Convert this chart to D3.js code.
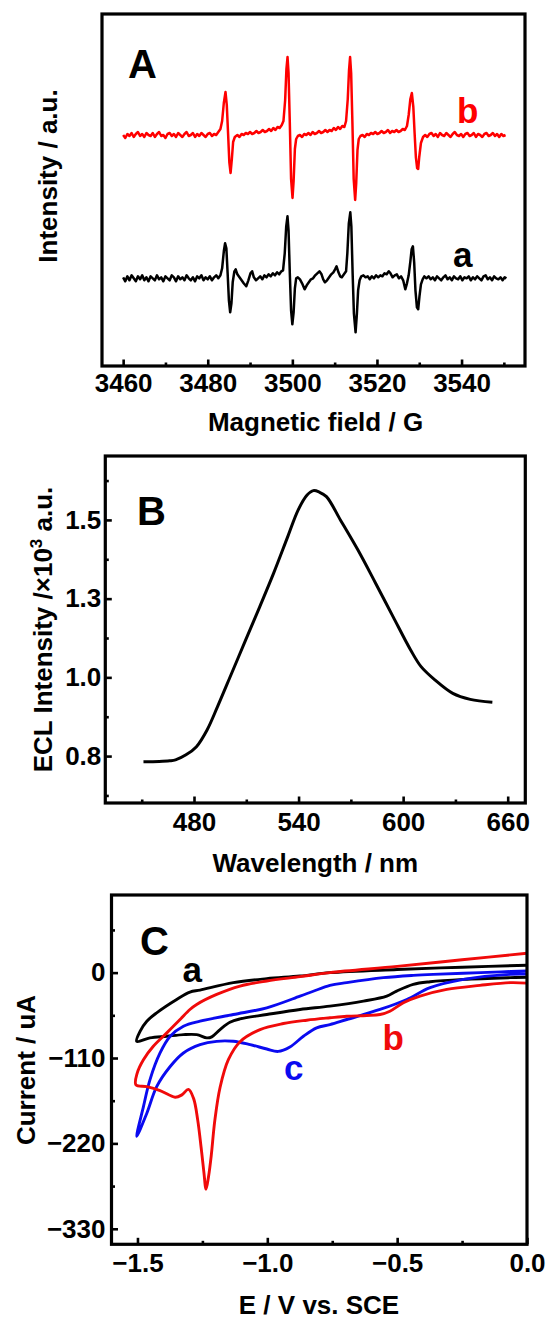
<!DOCTYPE html>
<html><head><meta charset="utf-8">
<script src="https://cdn.jsdelivr.net/npm/d3@7"></script>
<style>
body{margin:0;background:#fff}
svg{display:block}
text{font-family:"Liberation Sans",Arial,sans-serif;font-weight:bold}
</style>
</head><body>
<svg id="fig" width="547" height="1320"></svg>
<script>
// ---------- Panel A : EPR spectra ----------
const eprTicks = [3460, 3480, 3500, 3520, 3540];
const eprMinor = [3470, 3490, 3510, 3530, 3550];
const eprOffsetA = 0;      // curve a baseline
const eprOffsetB = 1.433;  // curve b baseline (stacked)
const eprB = [[3460,0.00],[3460.5,-0.03],[3461,0.01],[3461.5,-0.01],[3462,0.02],[3462.5,-0.02],[3463,0.01],[3463.5,0.03],[3464,-0.01],[3464.5,0.01],[3465,-0.02],[3465.5,0.02],[3466,0.00],[3466.5,-0.01],[3467,0.02],[3467.5,-0.02],[3468,0.01],[3468.5,0.03],[3469,-0.01],[3469.5,0.00],[3470,-0.03],[3470.5,0.01],[3471,0.02],[3471.5,-0.01],[3472,0.01],[3472.5,-0.02],[3473,0.02],[3473.5,0.00],[3474,-0.02],[3474.5,0.01],[3475,0.03],[3475.5,-0.01],[3476,0.00],[3476.5,0.02],[3477,-0.02],[3477.5,0.01],[3478,-0.01],[3478.5,0.02],[3479,0.00],[3479.5,-0.02],[3480,0.01],[3480.5,0.02],[3481,-0.01],[3481.5,0.01],[3482,0.00],[3482.5,0.03],
[3483,0.06],[3483.4,0.14],[3483.8,0.32],[3484.2,0.43],[3484.5,0.30],[3484.8,0.02],[3485.1,-0.27],[3485.4,-0.38],[3485.7,-0.24],[3486,-0.07],[3486.4,-0.02],
[3487,0.00],[3487.5,-0.02],[3488,0.01],[3488.5,0.00],[3489,0.02],[3489.5,0.01],[3490,0.03],[3490.5,0.01],[3491,0.02],[3491.5,0.04],[3492,0.02],[3492.5,0.03],[3493,0.05],[3493.5,0.03],[3494,0.04],[3494.5,0.06],[3495,0.04],[3495.5,0.07],[3496,0.05],[3496.5,0.08],[3497,0.07],[3497.5,0.10],
[3497.9,0.14],[3498.3,0.35],[3498.6,0.66],[3498.86,0.78],[3499.1,0.62],[3499.4,0.12],[3499.7,-0.44],[3500.04,-0.63],[3500.3,-0.46],[3500.6,-0.14],[3500.9,-0.04],[3501.3,-0.01],
[3501.8,0.00],[3502.3,-0.02],[3502.8,0.01],[3503.3,0.00],[3503.8,0.02],[3504.3,0.00],[3504.8,0.03],[3505.3,0.01],[3505.8,0.02],[3506.3,0.04],[3506.8,0.02],[3507.3,0.03],[3507.8,0.05],[3508.3,0.03],[3508.8,0.05],[3509.3,0.04],[3509.8,0.07],[3510.3,0.05],[3510.8,0.08],[3511.3,0.06],[3511.8,0.09],[3512.3,0.08],
[3512.7,0.14],[3513.1,0.36],[3513.4,0.65],[3513.65,0.78],[3513.9,0.62],[3514.2,0.12],[3514.5,-0.44],[3514.85,-0.65],[3515.1,-0.48],[3515.4,-0.15],[3515.7,-0.04],[3516.1,-0.01],
[3516.6,0.00],[3517.1,-0.02],[3517.6,0.01],[3518.1,0.00],[3518.6,0.02],[3519.1,0.01],[3519.6,0.03],[3520.1,0.01],[3520.6,0.02],[3521.1,0.04],[3521.6,0.02],[3522.1,0.03],[3522.6,0.05],[3523.1,0.02],[3523.6,0.04],[3524.1,0.03],[3524.6,0.05],[3525.1,0.03],[3525.6,0.04],[3526.1,0.06],[3526.6,0.05],
[3527.1,0.09],[3527.5,0.20],[3527.9,0.36],[3528.25,0.42],[3528.6,0.28],[3528.9,0.02],[3529.2,-0.22],[3529.5,-0.33],[3529.75,-0.34],[3530.0,-0.22],[3530.4,-0.08],[3530.9,-0.02],
[3531.4,0.00],[3531.9,-0.02],[3532.4,0.01],[3532.9,0.02],[3533.4,-0.01],[3533.9,0.01],[3534.4,-0.02],[3534.9,0.02],[3535.4,0.00],[3535.9,-0.01],[3536.4,0.02],[3536.9,0.00],[3537.4,-0.02],[3537.9,0.01],[3538.4,0.03],[3538.9,0.00],[3539.4,-0.01],[3539.9,0.01],[3540.4,-0.02],[3540.9,0.01],[3541.4,0.02],[3541.9,-0.01],[3542.4,0.00],[3542.9,0.02],[3543.4,-0.02],[3543.9,0.01],[3544.4,0.00],[3544.9,-0.02],[3545.4,0.01],[3545.9,0.02],[3546.4,-0.01],[3546.9,0.00],[3547.4,0.02],[3547.9,-0.01],[3548.4,0.01],[3548.9,-0.02],[3549.4,0.01],[3549.9,-0.01],[3550.4,0.00]];
const eprA = [[3460,0.01],[3460.5,-0.03],[3461,0.02],[3461.5,-0.02],[3462,0.03],[3462.5,0.00],[3463,-0.03],[3463.5,0.02],[3464,-0.01],[3464.5,0.03],[3465,-0.02],[3465.5,0.01],[3466,-0.03],[3466.5,0.02],[3467,0.00],[3467.5,-0.02],[3468,0.03],[3468.5,-0.01],[3469,0.01],[3469.5,-0.03],[3470,0.02],[3470.5,0.00],[3471,-0.02],[3471.5,0.03],[3472,0.01],[3472.5,-0.03],[3473,0.02],[3473.5,-0.01],[3474,0.01],[3474.5,-0.02],[3475,0.03],[3475.5,0.00],[3476,-0.02],[3476.5,0.01],[3477,-0.03],[3477.5,0.02],[3478,0.00],[3478.5,0.03],[3479,-0.02],[3479.5,0.01],[3480,-0.01],[3480.5,0.02],[3481,-0.02],[3481.5,0.01],[3482,0.03],[3482.5,0.00],
[3483,0.03],[3483.4,0.10],[3483.8,0.27],[3484.1,0.35],[3484.4,0.30],[3484.7,0.05],[3485.0,-0.22],[3485.3,-0.34],[3485.6,-0.25],[3485.9,-0.04],[3486.3,0.07],[3486.6,0.09],
[3487,0.04],[3487.5,0.01],[3488,-0.02],[3488.5,-0.05],[3489.1,-0.08],[3489.6,-0.02],[3490.1,0.05],[3490.5,0.07],[3490.9,0.01],[3491.4,-0.02],[3491.9,0.00],[3492.4,0.02],[3492.9,-0.01],[3493.4,0.03],[3493.9,0.01],[3494.4,0.04],[3494.9,0.02],[3495.4,0.05],[3495.9,0.03],[3496.4,0.06],[3496.9,0.04],[3497.4,0.07],[3497.8,0.08],
[3498.2,0.25],[3498.55,0.52],[3498.85,0.62],[3499.1,0.48],[3499.4,0.05],[3499.7,-0.32],[3500.0,-0.46],[3500.3,-0.34],[3500.6,-0.10],[3500.9,0.00],[3501.3,0.01],[3501.8,-0.01],[3502.3,-0.05],[3502.9,-0.11],[3503.4,-0.07],[3503.9,-0.04],[3504.4,-0.01],[3504.9,0.00],[3505.4,0.03],[3505.9,0.05],[3506.4,0.07],[3506.9,0.04],[3507.3,-0.01],[3507.7,-0.04],[3508.2,-0.02],[3508.7,0.01],[3509.2,0.04],[3509.7,0.06],[3510.1,0.09],[3510.45,0.12],[3510.9,0.06],[3511.3,0.02],[3511.7,0.01],[3512.2,0.04],[3512.7,0.07],
[3513.0,0.25],[3513.35,0.55],[3513.7,0.66],[3513.95,0.52],[3514.25,0.05],[3514.55,-0.35],[3514.95,-0.54],[3515.25,-0.36],[3515.55,-0.12],[3515.9,-0.02],[3516.3,0.02],
[3516.8,0.03],[3517.3,0.01],[3517.8,0.02],[3518.3,-0.01],[3518.8,0.02],[3519.3,0.00],[3519.8,0.03],[3520.3,0.01],[3520.8,0.03],[3521.3,0.02],[3521.8,0.05],[3522.3,0.04],[3522.8,0.07],[3523.2,0.05],[3523.7,0.01],[3524.2,0.03],[3524.7,0.04],[3525.2,0.00],[3525.7,0.02],[3526.2,-0.02],[3526.7,-0.11],[3527.1,-0.05],[3527.5,0.03],
[3527.9,0.17],[3528.2,0.29],[3528.5,0.32],[3528.8,0.16],[3529.1,-0.12],[3529.45,-0.29],[3529.75,-0.31],[3530.05,-0.18],[3530.4,-0.06],[3530.8,-0.01],[3531.2,0.02],
[3531.7,0.00],[3532.2,0.02],[3532.7,-0.01],[3533.2,0.01],[3533.7,-0.02],[3534.2,0.02],[3534.7,0.00],[3535.2,-0.02],[3535.7,0.01],[3536.2,0.03],[3536.7,-0.01],[3537.2,0.01],[3537.7,-0.02],[3538.2,0.02],[3538.7,0.00],[3539.2,-0.01],[3539.7,0.02],[3540.2,-0.02],[3540.7,0.01],[3541.2,0.00],[3541.7,0.02],[3542.2,-0.02],[3542.7,0.01],[3543.2,-0.01],[3543.7,0.02],[3544.2,0.00],[3544.7,-0.02],[3545.2,0.02],[3545.7,0.03],[3546.2,-0.01],[3546.7,0.01],[3547.2,-0.02],[3547.7,0.02],[3548.2,0.00],[3548.7,-0.01],[3549.2,0.01],[3549.7,-0.02],[3550.2,0.01],[3550.6,0.00]];

// ---------- Panel B : ECL spectrum ----------
const wlTicks = [480, 540, 600, 660];
const wlMinor = [450, 510, 570, 630];
const eclTicks = [0.75, 1.0, 1.25, 1.5];
const eclTickLabels = ["0.8", "1.0", "1.3", "1.5"];
const eclMinor = [0.625, 0.875, 1.125, 1.375, 1.625];
const wavelength = [451, 460, 466, 469.4, 475.4, 481.4, 487.5, 493.5, 501.6, 509.6, 517.7, 525.7, 533.8, 539.8, 544.9, 548.5, 552, 556, 564, 574, 584.2, 594.2, 604.3, 610.3, 618.4, 628.5, 638.5, 651.2];
const eclIntensity = [0.732, 0.733, 0.735, 0.738, 0.754, 0.78, 0.833, 0.907, 1.013, 1.118, 1.224, 1.331, 1.447, 1.532, 1.579, 1.593, 1.588, 1.574, 1.5, 1.405, 1.299, 1.193, 1.087, 1.034, 0.991, 0.949, 0.93, 0.921];

// ---------- Panel C : cyclic voltammograms ----------
const potTicks = [-1.5, -1.0, -0.5, 0.0];
const potMinor = [-1.25, -0.75, -0.25];
const curTicks = [0, -110, -220, -330];
const curMinor = [55, -55, -165, -275];
const cvA = [[0,9.5],[-0.25,7],[-0.5,4],[-0.759,0],[-0.874,-4.4],[-1.002,-7.8],[-1.131,-12.9],[-1.259,-22.5],[-1.298,-25.1],[-1.349,-34.6],[-1.426,-51.8],[-1.464,-62.6],[-1.49,-75.6],[-1.503,-88.5],[-1.452,-84.1],[-1.387,-82],[-1.323,-79.9],[-1.272,-79.9],[-1.233,-84.1],[-1.214,-82.8],[-1.182,-73.4],[-1.144,-63.9],[-1.105,-59.6],[-1.002,-54],[-0.874,-47.5],[-0.759,-43.2],[-0.63,-36.7],[-0.54,-30.3],[-0.502,-23.8],[-0.438,-15.1],[-0.373,-11.7],[-0.245,-8.7],[-0.065,-6.5],[0,-6]];
const cvB = [[0,25],[-0.25,16.5],[-0.5,8],[-0.759,0],[-0.874,-5.2],[-1.002,-10.8],[-1.105,-17.3],[-1.195,-28.1],[-1.272,-41],[-1.298,-47.5],[-1.336,-60.4],[-1.387,-77.6],[-1.439,-94.9],[-1.477,-112.2],[-1.501,-129.4],[-1.506,-144.5],[-1.464,-146.8],[-1.413,-151.9],[-1.355,-160.5],[-1.329,-157.5],[-1.304,-150.5],[-1.284,-162],[-1.268,-190],[-1.255,-225],[-1.244,-258],[-1.236,-279],[-1.226,-262],[-1.216,-236],[-1.202,-190],[-1.182,-148],[-1.15,-112.2],[-1.105,-89],[-1.028,-73.4],[-0.938,-65.6],[-0.848,-61.3],[-0.759,-58.2],[-0.694,-56.2],[-0.617,-55.3],[-0.566,-54],[-0.528,-49.7],[-0.476,-38.8],[-0.412,-30.3],[-0.309,-21.6],[-0.181,-16.4],[-0.065,-12.9],[0,-13.5]];
const cvC = [[0,2],[-0.1,1],[-0.245,-0.9],[-0.361,-2.2],[-0.438,-3.5],[-0.553,-6.5],[-0.694,-12.9],[-0.759,-16.5],[-0.823,-24],[-0.874,-30.3],[-1.002,-45.3],[-1.131,-54],[-1.259,-62.6],[-1.323,-69.1],[-1.374,-82],[-1.413,-103.5],[-1.452,-138.1],[-1.477,-172.6],[-1.503,-211],[-1.464,-181.2],[-1.426,-146.8],[-1.374,-120.9],[-1.323,-103.5],[-1.259,-92.8],[-1.195,-88.5],[-1.131,-88.5],[-1.066,-92.8],[-1.002,-98.4],[-0.958,-101.5],[-0.913,-95.8],[-0.861,-82],[-0.81,-71.2],[-0.759,-66.9],[-0.694,-60.4],[-0.566,-47.5],[-0.463,-34.6],[-0.373,-19.4],[-0.245,-8.7],[-0.065,-2.2],[0,-2]];

// ---------- drawing ----------
const FONT = 26;
const svg = d3.select("#fig");
const PA = {l:102, r:525, t:14, b:366};
const PB = {l:105.3, r:525.3, t:456, b:803};
const PC = {l:111.5, r:527, t:895, b:1244.3};

function styleAxis(g){
  g.select(".domain").remove();
  g.attr("font-size", FONT).attr("font-family", '"Liberation Sans",Arial,sans-serif').attr("font-weight","bold");
  g.selectAll(".tick line").attr("stroke-width", 2.6);
}
function bottomAxis(P, scale, major, minor, fmt, pad){
  svg.append("g").attr("transform",`translate(0,${P.b})`)
    .call(d3.axisBottom(scale).tickValues(minor).tickSize(-3.5).tickFormat(""))
    .call(styleAxis);
  svg.append("g").attr("transform",`translate(0,${P.b})`)
    .call(d3.axisBottom(scale).tickValues(major).tickSize(-6.5).tickPadding(pad).tickFormat(fmt))
    .call(styleAxis);
}
function leftAxis(P, scale, major, minor, fmt, pad){
  svg.append("g").attr("transform",`translate(${P.l},0)`)
    .call(d3.axisLeft(scale).tickValues(minor).tickSize(-3.5).tickFormat(""))
    .call(styleAxis);
  svg.append("g").attr("transform",`translate(${P.l},0)`)
    .call(d3.axisLeft(scale).tickValues(major).tickSize(-6.5).tickPadding(pad).tickFormat(fmt))
    .call(styleAxis);
}
function frame(P){
  svg.append("rect").attr("x",P.l).attr("y",P.t).attr("width",P.r-P.l).attr("height",P.b-P.t)
    .attr("fill","none").attr("stroke","#000").attr("stroke-width",3.2);
}
function clip(id,P){
  svg.append("clipPath").attr("id",id).append("rect")
    .attr("x",P.l).attr("y",P.t).attr("width",P.r-P.l).attr("height",P.b-P.t);
}
function label(x,y,txt,size,color){
  svg.append("text").attr("x",x).attr("y",y).attr("font-size",size).attr("fill",color||"#000").text(txt);
}
function title(x,y,txt,rot){
  const t = svg.append("text").attr("text-anchor","middle").attr("font-size",FONT)
    .attr("transform",`translate(${x},${y})${rot?" rotate(-90)":""}`);
  t.text(txt);
  return t;
}

// Panel A
const xA = d3.scaleLinear().domain([3455, 3555]).range([PA.l, PA.r]);
const yA = d3.scaleLinear().domain([-0.877, 2.643]).range([PA.b, PA.t]);
clip("clipA", PA);
const lineA = off => d3.line().x(d=>xA(d[0])).y(d=>yA(d[1]+off));
svg.append("path").datum(eprA).attr("d", lineA(eprOffsetA)).attr("fill","none").attr("stroke","#000").attr("stroke-width",2.5).attr("stroke-linejoin","round").attr("clip-path","url(#clipA)");
svg.append("path").datum(eprB).attr("d", lineA(eprOffsetB)).attr("fill","none").attr("stroke","#ff0000").attr("stroke-width",2.5).attr("stroke-linejoin","round").attr("clip-path","url(#clipA)");
bottomAxis(PA, xA, eprTicks, eprMinor, d3.format("d"), 8);
frame(PA);
label(128, 78, "A", 40);
label(457, 123, "b", 35, "#ff0000");
label(453, 267, "a", 35);
title(315.5, 431, "Magnetic field / G");
title(57, 176, "Intensity / a.u.", true);

// Panel B
const xB = d3.scaleLinear().domain([429.1, 670.1]).range([PB.l, PB.r]);
const yB = d3.scaleLinear().domain([0.601, 1.703]).range([PB.b, PB.t]);
const eclPts = wavelength.map((w,i)=>[w, eclIntensity[i]]);
svg.append("path").datum(eclPts)
  .attr("d", d3.line().x(d=>xB(d[0])).y(d=>yB(d[1])).curve(d3.curveCatmullRom.alpha(0.5)))
  .attr("fill","none").attr("stroke","#000").attr("stroke-width",3);
bottomAxis(PB, xB, wlTicks, wlMinor, d3.format("d"), 10);
leftAxis(PB, yB, eclTicks, eclMinor, (d,i)=>eclTickLabels[i], 4);
frame(PB);
label(137, 525, "B", 40);
title(315.3, 872, "Wavelength / nm");
{
  const t = svg.append("text").attr("text-anchor","middle").attr("font-size",FONT)
    .attr("transform","translate(52,629.5) rotate(-90)");
  t.append("tspan").text("ECL Intensity /\u00d710");
  t.append("tspan").attr("font-size",17).attr("dy",-10).text("3");
  t.append("tspan").attr("dy",10).text(" a.u.");
}

// Panel C
const xC = d3.scaleLinear().domain([-1.6, 0.0]).range([PC.l, PC.r]);
const yC = d3.scaleLinear().domain([-350, 100]).range([PC.b, PC.t]);
clip("clipC", PC);
const lineC = d3.line().x(d=>xC(d[0])).y(d=>yC(d[1])).curve(d3.curveCatmullRom.alpha(0.5));
[[cvA,"#000"],[cvC,"#0a0af0"],[cvB,"#f00a0a"]].forEach(([data,col])=>{
  svg.append("path").datum(data).attr("d",lineC).attr("fill","none").attr("stroke",col)
    .attr("stroke-width",2.9).attr("stroke-linejoin","round").attr("clip-path","url(#clipC)");
});
bottomAxis(PC, xC, potTicks, potMinor, d3.format(".1f"), 9);
leftAxis(PC, yC, curTicks, curMinor, d3.format("d"), 6);
frame(PC);
label(140, 955, "C", 40);
label(182.5, 982, "a", 35);
label(382.5, 1050, "b", 35, "#f00a0a");
label(284, 1080, "c", 35, "#0a0af0");
title(319, 1314, "E / V vs. SCE");
title(34.5, 1070, "Current / uA", true);
</script>
</body></html>
